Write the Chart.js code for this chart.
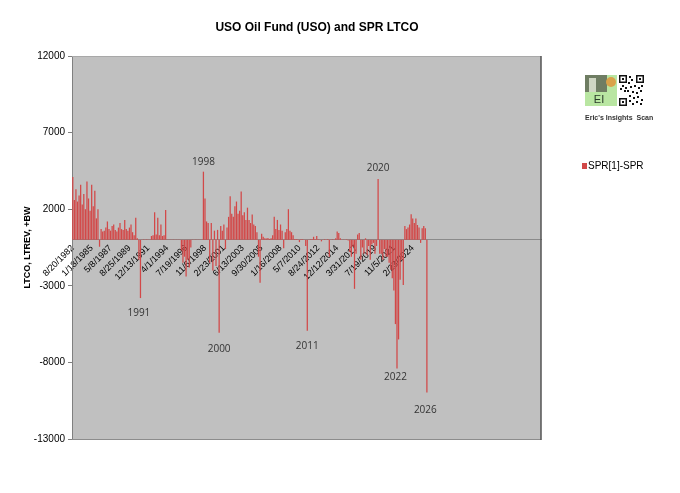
<!DOCTYPE html>
<html>
<head>
<meta charset="utf-8">
<script src="https://cdn.jsdelivr.net/npm/chart.js@4.4.1/dist/chart.umd.min.js"></script>
<style>
  body { margin: 0; background: #fff; }
  #wrap { width: 680px; height: 493px; position: relative; }
</style>
</head>
<body>
<div id="wrap"><canvas id="grafico"></canvas></div>
<script>
// tick labels shown on the date axis (one every 12 categories, 10 weeks per category)
var tickLabels = ["8/20/1982", "1/18/1985", "5/8/1987", "8/25/1989", "12/13/1991", "4/1/1994",
  "7/19/1996", "11/6/1998", "2/23/2001", "6/13/2003", "9/30/2005", "1/16/2008", "5/7/2010",
  "8/24/2012", "12/12/2014", "3/31/2017", "7/19/2019", "11/5/2021", "2/23/2024"];
var nCategories = 298;
var labelEvery = 12;

// SPR[1]-SPR values
var sprValues = [
  4100, 2600, 3300, 2500, 2900, 3600, 2300, 3000, 2000, 3800,
  2700, 1900, 3600, 2200, 3200, 1400, 2000, -450, 700, 550,
  600, 800, 1200, 700, 600, 900, 1000, 650, 550, 800,
  1100, 700, 650, 1300, 700, 600, 800, 1000, 500, 300,
  1450, 100, -1300, -3800, 20, 30, 20, 40, 30, 20,
  250, 300, 1800, 350, 1450, 300, 1000, 250, 300, 1950,
  20, 30, 20, 30, 20, 30, 20, 30, 20, -700,
  -1500, -1100, -2400, -1300, -1800, -500, 20, 30, 20, 30,
  20, 30, 30, 4450, 2700, 1200, 1100, -1500, 1100, -2000,
  600, -1700, 650, -6070, 900, 600, 1000, -600, 800, 1500,
  2850, 1700, 1500, 2200, 2500, 1700, 1900, 3150, 1600, 1800,
  1300, 2100, 1300, 1100, 1650, 1000, 900, 500, -1100, -2800,
  400, 200, 100, 80, 120, 60, 100, 300, 1500, 700,
  1300, 650, 1000, 600, -550, 500, 700, 2000, 600, 500,
  300, 50, 60, 40, -150, 50, 40, 30, -400, -5940,
  30, 40, 60, 200, 50, 250, 40, 30, -100, 30,
  40, 20, 50, -1100, 30, 40, 20, 100, 540, 450,
  100, 30, 20, 30, 40, -50, -800, -1100, -450, -3200,
  -900, 350, 450, -1300, -500, -900, 100, -1000, -400, -1300,
  -300, -200, -900, -400, 3970, -900, -900, -1300, -600, -1100,
  -1100, -1500, -1950, -2500, -3300, -5500, -8400, -6500, -2600, -1300,
  -2950, 900, 700, 800, 1000, 1670, 1400, 1100, 1400, 970,
  800, -200, 760, 900, 760, -9960
];

// year notes: category index and value where the text sits
var notes = [
  { text: "1998", i: 83, v: 5100 },
  { text: "2020", i: 194, v: 4650 },
  { text: "1991", i: 42, v: -4770 },
  { text: "2000", i: 93, v: -7120 },
  { text: "2011", i: 149, v: -6920 },
  { text: "2022", i: 205, v: -8940 },
  { text: "2026", i: 224, v: -11090 }
];

var yTicks = { min: -13000, max: 12000, step: 5000 };
var barColor = "rgb(210,72,72)";

var categories = [];
for (var i = 0; i < nCategories; i++) {
  var k = i / labelEvery;
  categories.push(i % labelEvery === 0 && tickLabels[k] ? tickLabels[k] : "");
}

var extras = {
  id: "extras",
  beforeDraw: function (chart) {
    var a = chart.chartArea, c = chart.ctx;
    c.save();
    c.fillStyle = "#c0c0c0";
    c.fillRect(a.left, a.top, a.right - a.left, a.bottom - a.top);
    c.restore();
  },
  afterDraw: function (chart) {
    var a = chart.chartArea, c = chart.ctx;
    var xs = chart.scales.x, ys = chart.scales.y;
    c.save();
    // frame
    c.lineWidth = 1;
    c.strokeStyle = "#a8a8a8";
    c.beginPath(); c.moveTo(a.left, a.top + 0.5); c.lineTo(a.right, a.top + 0.5); c.stroke();
    c.strokeStyle = "#8c8c8c";
    c.beginPath(); c.moveTo(a.left, a.bottom + 0.5); c.lineTo(a.right, a.bottom + 0.5); c.stroke();
    c.strokeStyle = "#555";
    c.lineWidth = 1.5;
    c.beginPath(); c.moveTo(a.right, a.top); c.lineTo(a.right, a.bottom + 1); c.stroke();

    // title
    c.fillStyle = "#000";
    c.font = "bold 12px 'Liberation Sans', Arial, sans-serif";
    c.textAlign = "center";
    c.textBaseline = "middle";
    c.fillText("USO Oil Fund (USO) and SPR LTCO", 317, 28);

    // year notes
    c.font = "10px 'Open Sans', sans-serif";
    c.fillStyle = "#333";
    notes.forEach(function (n) {
      c.fillText(n.text, xs.getPixelForValue(n.i), ys.getPixelForValue(n.v));
    });

    // legend
    c.fillStyle = barColor;
    c.fillRect(582, 163, 5, 6);
    c.fillStyle = "#000";
    c.textAlign = "left";
    c.font = "10px 'Liberation Sans', Arial, sans-serif";
    c.fillText("SPR[1]-SPR", 588, 166.5);

    // logo
    c.fillStyle = "#b9e6a2";
    c.fillRect(585, 75, 32, 31);
    c.fillStyle = "#6f7d63";
    c.fillRect(585, 75, 22, 17);
    c.fillStyle = "#cfd6c4";
    c.fillRect(589, 78, 7, 14);
    c.fillStyle = "#d9a24a";
    c.beginPath(); c.arc(611, 82, 5, 0, Math.PI * 2); c.fill();
    c.fillStyle = "#2a3a2a";
    c.font = "11px 'Liberation Sans', Arial, sans-serif";
    c.textAlign = "center";
    c.fillText("EI", 599, 100);
    c.fillStyle = "#fff";
    c.fillRect(619, 75, 25, 31);
    c.fillStyle = "#111";
    var qr = [[619, 75], [636, 75], [619, 98]];
    qr.forEach(function (p) {
      c.fillRect(p[0], p[1], 8, 8);
      c.fillStyle = "#fff"; c.fillRect(p[0] + 1.5, p[1] + 1.5, 5, 5);
      c.fillStyle = "#111"; c.fillRect(p[0] + 3, p[1] + 3, 2, 2);
    });
    var dots = [[629, 76], [631, 79], [628, 82], [622, 85], [625, 87], [630, 86], [634, 85],
      [638, 87], [641, 85], [627, 90], [632, 91], [636, 92], [640, 90], [629, 95], [633, 97],
      [637, 96], [641, 99], [629, 100], [632, 103], [636, 101], [640, 103], [624, 90], [620, 88]];
    dots.forEach(function (p) { c.fillRect(p[0], p[1], 2, 2); });
    c.fillStyle = "#333";
    c.font = "bold 7px 'Liberation Sans', Arial, sans-serif";
    c.textAlign = "left";
    c.fillText("Eric's Insights  Scan", 585, 118);
    c.restore();
  }
};

var ctx = document.getElementById("grafico").getContext("2d");
var grafico = new Chart(ctx, {
  type: "bar",
  data: {
    labels: categories,
    datasets: [{
      label: "SPR[1]-SPR",
      data: sprValues,
      backgroundColor: barColor,
      borderWidth: 0,
      barPercentage: 0.8,
      categoryPercentage: 1
    }]
  },
  options: {
    responsive: true,
    maintainAspectRatio: false,
    animation: false,
    layout: { padding: { left: 22, right: 139, top: 56, bottom: 54 } },
    plugins: {
      legend: { display: false },
      tooltip: { enabled: false }
    },
    scales: {
      x: {
        type: "category",
        position: { y: 0 },
        grid: { display: false, drawTicks: false },
        border: { display: true, color: "#8a8a8a", dash: [2, 2] },
        ticks: {
          autoSkip: false,
          maxRotation: 45,
          minRotation: 45,
          padding: 3,
          color: "#000",
          font: { family: "'Liberation Sans', Arial, sans-serif", size: 9 }
        }
      },
      y: {
        min: yTicks.min,
        max: yTicks.max,
        afterFit: function (s) { s.width = 50; },
        grid: { drawOnChartArea: false, tickLength: 4, color: "#808080" },
        border: { color: "#808080" },
        ticks: {
          stepSize: yTicks.step,
          padding: 3,
          color: "#000",
          font: { family: "'Liberation Sans', Arial, sans-serif", size: 10 },
          callback: function (v) { return String(v); }
        },
        title: {
          display: true,
          text: "LTCO, LTREV, +BW",
          color: "#000",
          padding: { top: 0, bottom: 0 },
          font: { family: "'Liberation Sans', Arial, sans-serif", size: 9, weight: "bold" }
        }
      }
    }
  },
  plugins: [extras]
});
</script>
</body>
</html>
